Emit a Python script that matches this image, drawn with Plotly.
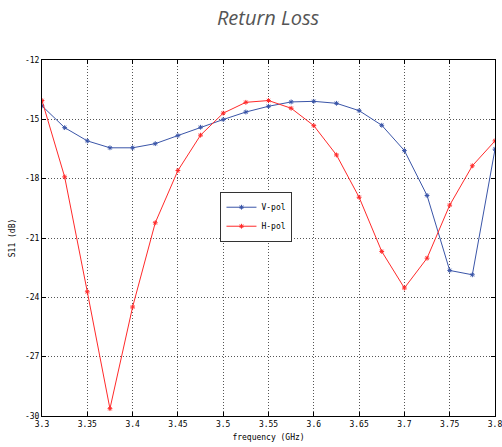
import plotly.graph_objects as go

freq = [3.3, 3.325, 3.35, 3.375, 3.4, 3.425, 3.45, 3.475, 3.5, 3.525, 3.55,
        3.575, 3.6, 3.625, 3.65, 3.675, 3.7, 3.725, 3.75, 3.775, 3.8]
v_pol = [-14.32, -15.42, -16.09, -16.44, -16.44, -16.23, -15.82, -15.40, -15.01, -14.63, -14.34,
         -14.12, -14.09, -14.19, -14.56, -15.30, -16.58, -18.85, -22.64, -22.86, -16.51]
h_pol = [-14.05, -17.91, -23.72, -29.63, -24.49, -20.23, -17.59, -15.80, -14.69, -14.14, -14.05,
         -14.44, -15.32, -16.80, -18.94, -21.68, -23.53, -22.02, -19.34, -17.35, -16.09]

x_ticks = [3.3, 3.35, 3.4, 3.45, 3.5, 3.55, 3.6, 3.65, 3.7, 3.75, 3.8]
x_labels = ["3.3", "3.35", "3.4", "3.45", "3.5", "3.55", "3.6", "3.65", "3.7", "3.75", "3.8"]
y_ticks = [-30, -27, -24, -21, -18, -15, -12]
y_labels = ["-30", "-27", "-24", "-21", "-18", "-15", "-12"]

mono = "DejaVu Sans Mono"

fig = go.Figure()
fig.add_trace(go.Scatter(x=freq, y=v_pol, mode="lines+markers", name="V-pol",
                         line=dict(color="#3a55a8", width=1),
                         marker=dict(symbol="asterisk-open", size=4,
                                     line=dict(color="#3a55a8", width=1))))
fig.add_trace(go.Scatter(x=freq, y=h_pol, mode="lines+markers", name="H-pol",
                         line=dict(color="#ff2a2a", width=1),
                         marker=dict(symbol="asterisk-open", size=4,
                                     line=dict(color="#ff2a2a", width=1))))

axis_common = dict(showline=True, linecolor="#000000", linewidth=1, mirror="allticks",
                   ticks="inside", ticklen=4, tickcolor="#000000",
                   showgrid=True, gridcolor="#555555", gridwidth=1, griddash="1px,2px",
                   zeroline=False, automargin=False, ticklabeloverflow="allow",
                   tickfont=dict(family=mono, size=8, color="#000000"))

fig.update_layout(
    width=502, height=447,
    margin=dict(l=42, r=7, t=60, b=31),
    paper_bgcolor="white", plot_bgcolor="white",
    title=dict(text="<i>Return Loss</i>", x=0.534, xanchor="center", y=0.96, yanchor="middle",
               font=dict(family="Open Sans", size=20, color="#555555")),
    xaxis=dict(range=[3.3, 3.8], tickvals=x_ticks, ticktext=x_labels,
               title=dict(text="frequency (GHz)", font=dict(family=mono, size=8, color="#000000"),
                          standoff=6),
               **axis_common),
    yaxis=dict(range=[-30, -12], tickvals=y_ticks, ticktext=y_labels,
               title=dict(text="S11 (dB)", font=dict(family=mono, size=8, color="#000000"),
                          standoff=8),
               **axis_common),
    legend=dict(x=0.394, y=0.63, xanchor="left", yanchor="top",
                bgcolor="white", bordercolor="#333333", borderwidth=1,
                font=dict(family=mono, size=8, color="#000000"),
                tracegroupgap=0, itemwidth=30),
    showlegend=True,
)

fig.write_html("out.html", config={"displayModeBar": False},
               post_script="document.body.style.margin='0';document.body.style.padding='0';")
